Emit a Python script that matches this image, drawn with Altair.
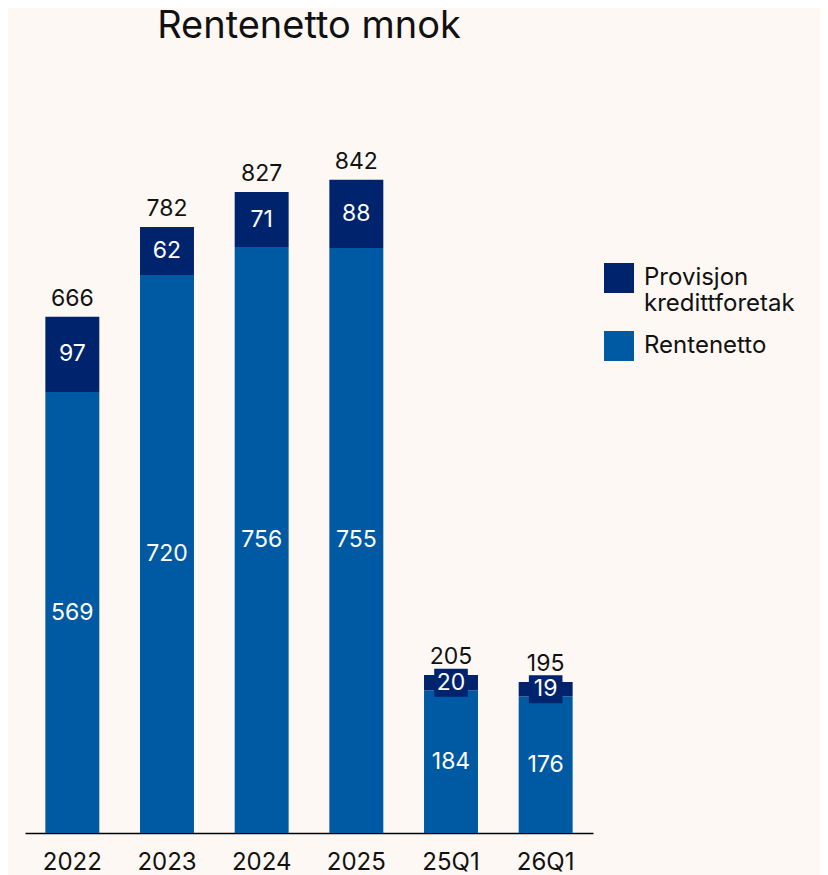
import altair as alt
import pandas as pd

periods = ["2022", "2023", "2024", "2025", "25Q1", "26Q1"]
rentenetto = [569, 720, 756, 755, 184, 176]
provisjon = [97, 62, 71, 88, 20, 19]
totals = [666, 782, 827, 842, 205, 195]
series = ["Provisjon kredittforetak", "Rentenetto"]
colors = ["#00236E", "#005AA3"]

rows = []
for p, r, v in zip(periods, rentenetto, provisjon):
    rows.append(dict(period=p, series="Rentenetto", start=0, end=r, value=r, mid=r / 2))
    rows.append(dict(period=p, series="Provisjon kredittforetak", start=r, end=r + v, value=v, mid=r + v / 2))
df = pd.DataFrame(rows)
tot = pd.DataFrame(dict(period=periods, total=totals,
                        top=[r + v for r, v in zip(rentenetto, provisjon)]))

FONT = "Inter"
x = alt.X("period:N", sort=periods, title=None,
          scale=alt.Scale(paddingInner=0.43, paddingOuter=0.215),
          axis=alt.Axis(labelAngle=0, ticks=False, domainColor="#000000", domainWidth=1.5,
                        labelFontSize=24, labelColor="#111111", labelPadding=17, labelFont=FONT))
yscale = alt.Scale(domain=[0, 1000])

bars = alt.Chart(df).mark_bar().encode(
    x=x,
    y=alt.Y("start:Q", scale=yscale, axis=None),
    y2="end:Q",
    color=alt.Color("series:N", scale=alt.Scale(domain=series, range=colors),
                    legend=alt.Legend(orient="none", legendX=579, legendY=205, title=None,
                                      symbolType="square", symbolSize=900, symbolStrokeWidth=0,
                                      labelFontSize=24, labelFont=FONT, labelColor="#111111",
                                      labelLimit=300, labelOffset=10, rowPadding=15,
                                      labelExpr="datum.label == 'Provisjon kredittforetak' ? ['Provisjon', 'kredittforetak'] : datum.label")),
)

boxes = alt.Chart(df).transform_filter(
    "datum.series == 'Provisjon kredittforetak' && datum.value < 30"
).mark_point(shape="M-1.2,-1L1.2,-1L1.2,1L-1.2,1Z", filled=True, size=784,
             color=colors[0], opacity=1, strokeWidth=0).encode(
    x=x, y=alt.Y("mid:Q", scale=yscale))

seg_labels = alt.Chart(df).mark_text(color="white", fontSize=23, font=FONT).encode(
    x=x, y=alt.Y("mid:Q", scale=yscale), text="value:Q")

tot_labels = alt.Chart(tot).mark_text(color="#111111", fontSize=23, font=FONT,
                                      baseline="bottom", dy=-6).encode(
    x=x, y=alt.Y("top:Q", scale=yscale), text="total:Q")

chart = alt.layer(bars, boxes, seg_labels, tot_labels).properties(
    width=568, height=775,
    title=alt.Title("Rentenetto mnok", fontSize=38, font=FONT, fontWeight="normal",
                    color="#111111", anchor="middle", offset=12),
    autosize=alt.AutoSizeParams(type="none"),
    padding={"left": 17, "top": 50, "right": 227, "bottom": 42},
    background="#FDF8F4",
).configure_view(stroke=None)

chart.save("out.html", embed_options={"renderer": "svg", "actions": False})
